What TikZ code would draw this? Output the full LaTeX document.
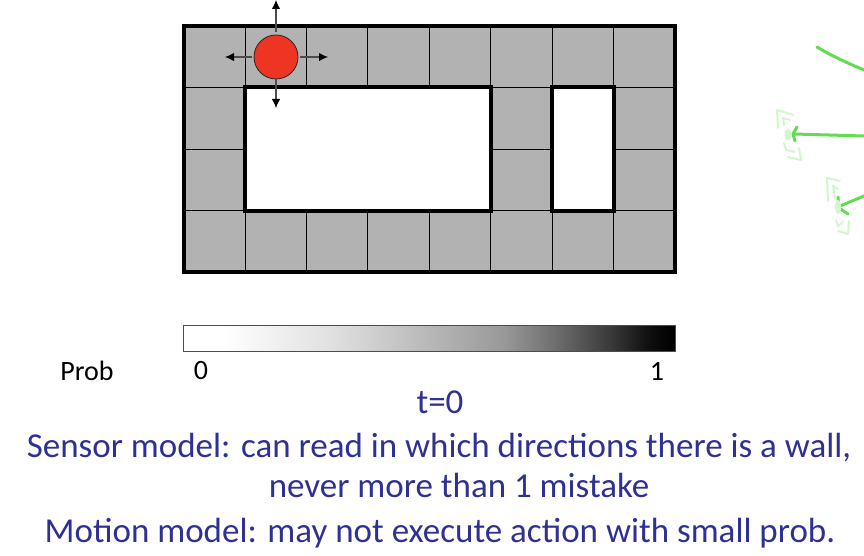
\documentclass[tikz,border=0pt]{standalone}
\usepackage{fontspec}
\setmainfont{Carlito}
\usetikzlibrary{arrows.meta}
\definecolor{cellgray}{HTML}{B2B2B2}
\definecolor{robotred}{HTML}{EE3524}
\definecolor{capblue}{HTML}{2E3192}
\definecolor{inkgreen}{HTML}{62DC50}
\definecolor{palegreen}{HTML}{D2F7CC}
\pgfdeclarehorizontalshading{probbar}{100bp}{
  color(0bp)=(white); color(25bp)=(white); color(29bp)=(white); color(40bp)=(black!12);
  color(50bp)=(black!28); color(57.5bp)=(black!40); color(62.5bp)=(black!56);
  color(68.5bp)=(black!78); color(72.5bp)=(black!95); color(75bp)=(black); color(100bp)=(black)}
\tikzset{
  x=1pt,y=-1pt,
  cell/.style={draw=black,line width=0.8pt},
  wall/.style={draw=black,line width=4pt,line join=miter},
  move/.style={draw=black!70,line width=1.1pt,-{Latex[length=9pt,width=8.5pt,black]}},
  robot/.style={circle,draw=black!85,line width=0.8pt,fill=robotred,minimum size=44pt,inner sep=0pt},
  lab/.style={inner sep=0pt,text=black,font=\fontsize{28}{28}\selectfont},
  capt/.style={inner sep=0pt,text=capblue,font=\fontsize{35}{35}\selectfont},
  inkstroke/.style={draw=inkgreen,line width=3pt,line cap=round},
  faint/.style={draw=palegreen,line width=2pt,line cap=round,line join=round},
}
\begin{document}
\begin{tikzpicture}
\useasboundingbox (0,0) rectangle (864,556);
% grid
\fill[cellgray] (183.5,26) rectangle (675,272);
\foreach \i in {1,...,7}{\draw[cell] ({183.5+61.4*\i},26) -- ({183.5+61.4*\i},272);}
\foreach \j in {1,2,3}{\draw[cell] (183.5,{26+61.5*\j}) -- (675,{26+61.5*\j});}
% holes
\fill[white] (245,87.5) rectangle (491,210.5);
\fill[white] (552.4,87.5) rectangle (613.6,210.5);
\draw[wall] (183.5,26) rectangle (675,272);
\draw[wall] (245,87.5) rectangle (491,210.5);
\draw[wall] (552.4,87.5) rectangle (613.6,210.5);
% robot
\node[robot] (r) at (276,57) {};
\coordinate (up) at (276,32);\coordinate (upend) at (276,0);
\coordinate (lf) at (252,57);\coordinate (lfend) at (225,57);
\coordinate (rt) at (300,57);\coordinate (rtend) at (328,57);
\coordinate (dn) at (276,79);\coordinate (dnend) at (276,108);
\draw[move] (up) -- (upend);
\draw[move] (lf) -- (lfend);
\draw[move] (rt) -- (rtend);
\draw[move] (dn) -- (dnend);
% colour bar
\shade[shading=probbar] (183.5,325) rectangle (675.5,351);
\draw[black!70,line width=0.7pt] (183.5,325) rectangle (675.5,351);
% labels
\node[lab] (prob) at (87,371) {Prob};
\node[lab] (zero) at (201,371) {0};
\node[lab] (one) at (657,371) {1};
\node[capt] (t) at (440,402) {t=0};
\node[capt] (s1) at (439,448) {Sensor model: can read in which directions there is a wall,};
\node[capt] (s2) at (459,485) {never more than 1 mistake};
\node[capt] (m) at (440,533.5) {Motion model: may not execute action with small prob.};
% green ink
\draw[inkstroke] (817,47) .. controls (830,55) and (845,62) .. (864,70);
\draw[inkstroke] (864,136) -- (794,134);
\draw[inkstroke] (797,127) -- (793,134) -- (795,141);
\draw[inkstroke] (864,196) -- (840,206);
\draw[inkstroke] (838,197) -- (839,208) -- (848,214);
\fill[palegreen] (788,135) ellipse (3.5pt and 6pt);
\fill[palegreen] (838,207) ellipse (3pt and 7pt);
\draw[faint] (778,128) -- (777,110) -- (793,115);
\draw[faint] (784,125) -- (783,118) -- (790,120);
\draw[faint] (784,143) -- (786,150) -- (795,152);
\draw[faint] (788,157) -- (801,160) -- (799,148);
\draw[faint] (828,201) -- (827,178) -- (840,181);
\draw[faint] (835,197) -- (833,186) -- (838,189);
\draw[faint] (836,220) -- (838,226) -- (843,222);
\draw[faint] (838,231) -- (848,234) -- (849,221);
\end{tikzpicture}
\end{document}
